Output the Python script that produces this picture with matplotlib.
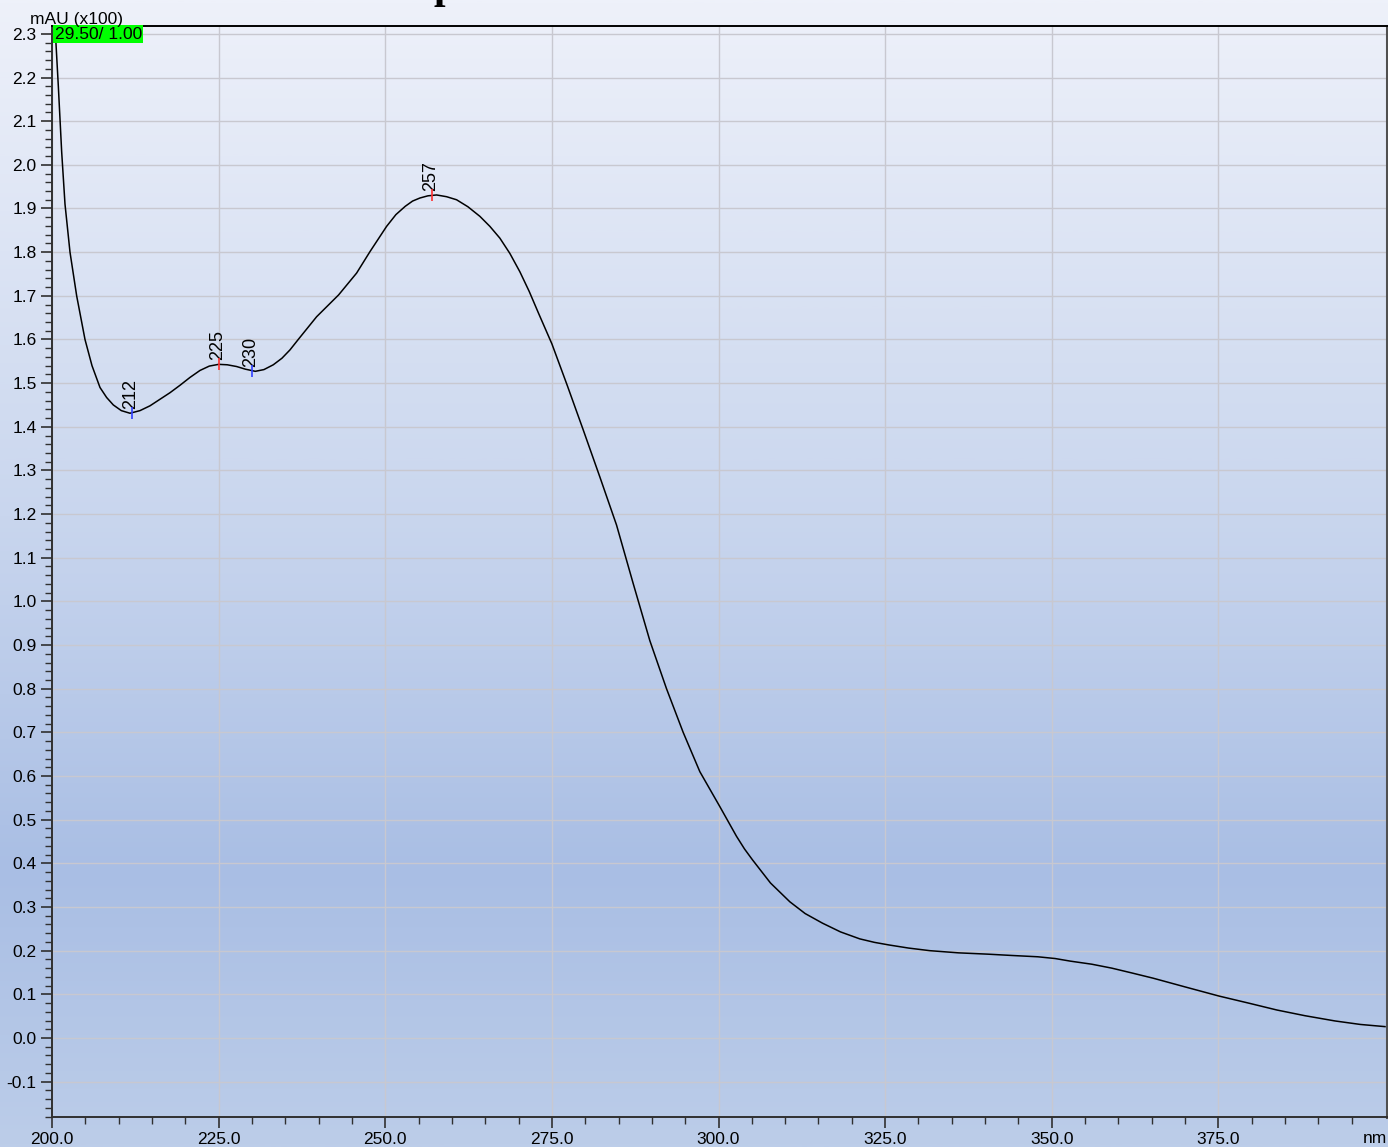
import numpy as np
import matplotlib
matplotlib.use("Agg")
import matplotlib.pyplot as plt
from matplotlib.colors import LinearSegmentedColormap

plt.rcParams['font.family'] = ['Liberation Sans', 'DejaVu Sans']

# spectrum (nm, mAU x100)
wavelength = [200.3, 200.95, 201.45, 201.95, 202.7, 203.7, 204.95, 206.0, 207.2, 208.2,
              209.2, 210.4, 211.7, 213.2, 214.7, 216.2, 217.7, 219.2, 220.7, 222.2,
              223.6, 225.0, 226.3, 227.7, 229.0, 230.5, 231.8, 233.2, 234.5, 235.7,
              237.0, 239.7, 243.0, 245.7, 247.7, 250.2, 251.6, 253.0, 254.1, 255.2,
              256.4, 257.7, 259.2, 260.7, 262.4, 264.2, 265.7, 267.2, 268.7, 270.2,
              271.6, 273.0, 275.0, 277.3, 279.7, 282.2, 284.7, 287.2, 289.7, 292.2,
              294.7, 297.2, 300.2, 302.7, 303.9, 305.1, 307.8, 310.7, 313.0, 315.6,
              318.3, 321.2, 323.4, 325.6, 328.5, 331.7, 336.0, 340.4, 344.0, 347.9,
              350.5, 352.8, 356.0, 359.0, 362.0, 365.2, 370.0, 375.1, 379.5, 383.8,
              388.0, 392.5, 396.3, 400.0]
absorbance = [2.36, 2.18, 2.03, 1.91, 1.80, 1.70, 1.60, 1.54, 1.49, 1.467,
              1.45, 1.437, 1.431, 1.437, 1.448, 1.463, 1.478, 1.495, 1.513, 1.529,
              1.539, 1.543, 1.542, 1.538, 1.532, 1.527, 1.531, 1.542, 1.557, 1.576,
              1.601, 1.652, 1.702, 1.752, 1.801, 1.859, 1.886, 1.905, 1.917, 1.924,
              1.929, 1.931, 1.927, 1.920, 1.904, 1.882, 1.859, 1.832, 1.797, 1.755,
              1.710, 1.660, 1.590, 1.495, 1.393, 1.285, 1.175, 1.041, 0.910, 0.800,
              0.700, 0.610, 0.530, 0.462, 0.433, 0.408, 0.355, 0.312, 0.285, 0.263,
              0.243, 0.227, 0.219, 0.213, 0.206, 0.200, 0.195, 0.192, 0.189, 0.186,
              0.182, 0.176, 0.169, 0.160, 0.149, 0.137, 0.117, 0.096, 0.080, 0.064,
              0.051, 0.039, 0.031, 0.026]

peak_nm = [212, 225, 230, 257]
peak_abs = [1.431, 1.543, 1.527, 1.931]
peak_colors = ['#3040ff', '#ff3030', '#3040ff', '#ff3030']

x_ticks = [200, 225, 250, 275, 300, 325, 350, 375]
x_ticklabels = ['200.0', '225.0', '250.0', '275.0', '300.0', '325.0', '350.0', '375.0']
y_ticks = np.round(np.arange(-0.1, 2.31, 0.1), 1)

fig = plt.figure(figsize=(13.88, 11.47), dpi=100)

# gradient background over the whole figure
bg = fig.add_axes([0, 0, 1, 1], zorder=-10)
cmap = LinearSegmentedColormap.from_list(
    'bg', [(0.0, '#eef1fa'), (0.45, '#c9d6ee'), (0.76, '#a9bee4'), (1.0, '#bccde9')])
grad = np.linspace(0, 1, 512).reshape(-1, 1)
bg.imshow(grad, aspect='auto', cmap=cmap, extent=[0, 1, 1, 0])
bg.set_axis_off()

ax = fig.add_axes([52 / 1388, 1 - 1117 / 1147, 1335 / 1388, 1091 / 1147])
ax.set_facecolor('none')

ax.plot(wavelength, absorbance, color='black', lw=1.1, zorder=3)
for nm, a, c in zip(peak_nm, peak_abs, peak_colors):
    ax.plot(nm, a, marker='|', ms=9, mew=1.2, color=c, zorder=4)
    ax.annotate(str(nm), (nm, a), xytext=(-1, 3), textcoords='offset points',
                rotation=90, ha='center', va='bottom', fontsize=13)

ax.set_xlim(200, 400.3)
ax.set_ylim(-0.181, 2.318)
ax.set_xticks(x_ticks)
ax.set_xticklabels(x_ticklabels)
ax.set_xticks(np.arange(205, 400, 5), minor=True)
ax.set_yticks(y_ticks)
ax.set_yticklabels([f'{v:.1f}' for v in y_ticks])
ax.set_yticks(np.arange(-0.18, 2.32, 0.02), minor=True)
ax.tick_params(which='major', length=8, width=1.2, color='#303030', labelsize=12.5, pad=3)
ax.tick_params(which='minor', length=5, width=1.0, color='#303030')
ax.grid(True, which='major', color='#c8c8d0', lw=1.0, zorder=0)

for side in ['left', 'bottom']:
    ax.spines[side].set_color('#303030')
    ax.spines[side].set_linewidth(1.4)
ax.spines['top'].set_color('black')
ax.spines['top'].set_linewidth(1.4)
ax.spines['right'].set_color('#505050')
ax.spines['right'].set_linewidth(2.2)

ax.text(200.4, 2.316, '29.50/ 1.00', fontsize=12.5, va='top', ha='left',
        bbox=dict(facecolor='#00ff00', edgecolor='none', pad=1.0), zorder=5)
fig.text(30 / 1388, 1 - 24 / 1147, 'mAU (x100)', fontsize=12.5, va='baseline', ha='left')
fig.text(1387 / 1388, 1 - 1143 / 1147, 'nm', fontsize=12.5, va='baseline', ha='right')
# cut-off title letter at the very top, as in the source
fig.text(445 / 1388, 1 + 2 / 1147, 'p', fontsize=30, fontweight='bold',
         family='Liberation Serif', ha='center', va='baseline')

fig.savefig('out.png', dpi=100)
